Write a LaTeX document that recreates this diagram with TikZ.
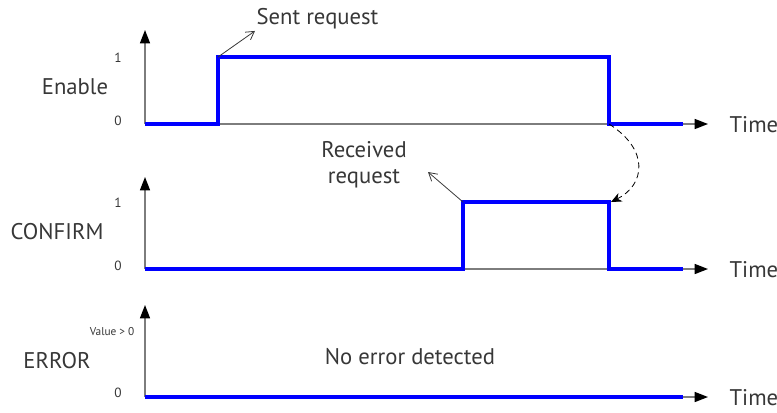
\documentclass[tikz,border=0pt]{standalone}
\usepackage{fontspec}
\setmainfont{PT Sans}
\usepackage{tikz}
\usetikzlibrary{arrows.meta, positioning}
\definecolor{sigblue}{RGB}{0,0,255}
\definecolor{axgray}{RGB}{125,125,125}
\definecolor{txtgray}{RGB}{55,55,55}
\tikzset{
  axis/.style={draw=axgray, line width=1.1pt, -{Triangle[length=10pt, width=7.5pt, color=black]}},
  signal/.style={draw=sigblue, line width=2.3pt},
  sig/.style={font=\fontsize{17}{20}\selectfont, text=txtgray, inner sep=1pt},
  lvl/.style={font=\fontsize{10}{12}\selectfont, text=txtgray, inner sep=1pt},
  note/.style={font=\fontsize{17}{19.5}\selectfont, text=txtgray, align=center, inner sep=1pt},
  pointer/.style={-{Straight Barb[length=6pt, width=7pt]}, semithick, color=txtgray},
  link/.style={dashed, dash pattern=on 4.5pt off 3pt, semithick, -{Stealth[length=8pt, width=7pt]}}
}

\begin{document}
\begin{tikzpicture}[x=0.75pt, y=-0.75pt]
  \useasboundingbox (0,0) rectangle (777,412);

  % Enable
  \coordinate (en0) at (145,124);
  \coordinate (entop) at (145,30);
  \coordinate (enend) at (708,124);
  \coordinate (enup) at (218,57);
  \coordinate (endown) at (609,124);
  \draw[axis] (en0) -- (entop);
  \draw[axis] (en0) -- (enend);
  \draw[signal] (en0) -- (218,124) -- (enup) -- (609,57) -- (endown) -- (683,124);
  \node[sig] (enable) at (75,87) {Enable};
  \node[lvl] (en1lbl) at (118,58) {1};
  \node[lvl] (en0lbl) at (118,121) {0};
  \node[sig, anchor=west] (entime) at (728,125) {Time};
  \node[note, anchor=west] (sent) at (255,19) {Sent request};

  % CONFIRM
  \coordinate (co0) at (145,269);
  \coordinate (cotop) at (145,177);
  \coordinate (coend) at (708,269);
  \coordinate (coup) at (463,202);
  \coordinate (codown) at (611,202);
  \coordinate (recvtip) at (428,172);
  \draw[axis] (co0) -- (cotop);
  \draw[axis] (co0) -- (coend);
  \draw[signal] (co0) -- (463,269) -- (coup) -- (609,202) -- (609,269) -- (683,269);
  \node[sig] (confirm) at (57,232) {CONFIRM};
  \node[lvl] (co1lbl) at (118,203) {1};
  \node[lvl] (co0lbl) at (118,266) {0};
  \node[sig, anchor=west] (cotime) at (728,270) {Time};
  \node[note] (recv) at (364,165) {Received\\request};

  % ERROR
  \coordinate (er0) at (145,397);
  \coordinate (ertop) at (145,305);
  \coordinate (erend) at (708,397);
  \draw[axis] (er0) -- (ertop);
  \draw[axis] (er0) -- (erend);
  \draw[signal] (er0) -- (683,397);
  \node[sig] (error) at (57,361) {ERROR};
  \node[lvl, font=\fontsize{8.5}{10}\selectfont, anchor=east] (erval) at (136,332) {Value > 0};
  \node[lvl] (er0lbl) at (118,393) {0};
  \node[sig, anchor=west] (ertime) at (728,398) {Time};
  \node[note] (noerr) at (410,357) {No error detected};

  % pointers
  \draw[pointer] (enup) -- (sent.south west);
  \draw[pointer] (coup) -- (recvtip);
  \draw[link] (endown) .. controls (650,150) and (645,185) .. (codown);
\end{tikzpicture}
\end{document}
